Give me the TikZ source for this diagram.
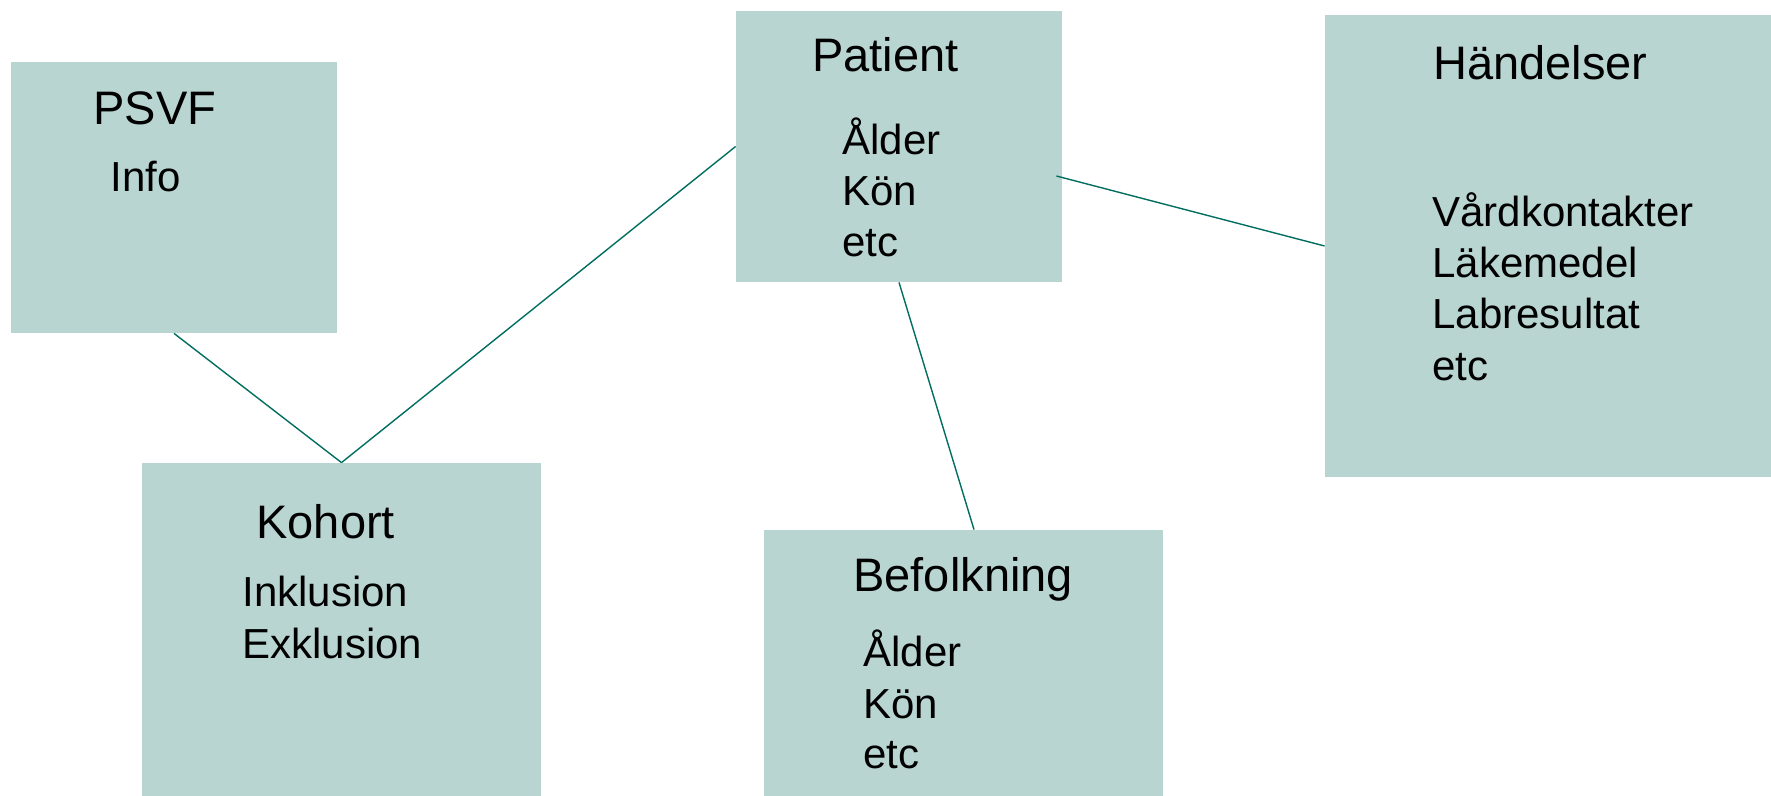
\documentclass[tikz,border=0pt]{standalone}
\usepackage{fontspec}
\setmainfont{Liberation Sans}
\usetikzlibrary{calc}
\definecolor{boxfill}{RGB}{185,213,210}
\definecolor{linkcol}{RGB}{0,110,96}
\tikzset{
  box/.style={rectangle, fill=boxfill, draw=none, inner sep=0pt},
  title/.style={anchor=base west, inner sep=0pt, font=\fontsize{23.5}{28}\selectfont},
  item/.style={anchor=base west, inner sep=0pt, font=\fontsize{21}{25}\selectfont},
  link/.style={draw=linkcol, line width=0.7pt}
}
\begin{document}
\begin{tikzpicture}[x=0.5pt, y=-0.5pt]
  \useasboundingbox[fill=white] (0,0) rectangle (1771,796);

  % boxes
  \node[box, minimum width=163pt, minimum height=135.5pt] (psvf) at (174,197.5) {};
  \node[box, minimum width=163pt, minimum height=135.5pt] (patient) at (899,146.5) {};
  \node[box, minimum width=223pt, minimum height=231pt] (hand) at (1548,246) {};
  \node[box, minimum width=199.5pt, minimum height=166.5pt] (kohort) at (341.5,629.5) {};
  \node[box, minimum width=199.5pt, minimum height=133pt] (bef) at (963.5,663) {};

  % PSVF
  \node[title] (psvfT) at (93,125) {PSVF};
  \node[item] (psvf1) at (110,192) {Info};

  % Patient
  \node[title] (patT) at (812,72) {Patient};
  \node[item] (pat1) at (842,155) {Ålder};
  \node[item] (pat2) at (842,206) {Kön};
  \node[item] (pat3) at (842,257) {etc};

  % Händelser
  \node[title] (handT) at (1433,80) {Händelser};
  \node[item] (hand1) at (1432,227) {Vårdkontakter};
  \node[item] (hand2) at (1432,278) {Läkemedel};
  \node[item] (hand3) at (1432,329) {Labresultat};
  \node[item] (hand4) at (1432,380) {etc};

  % Kohort
  \node[title] (kohT) at (256,538) {Kohort};
  \node[item] (koh1) at (242,606) {Inklusion};
  \node[item] (koh2) at (242,658) {Exklusion};

  % Befolkning
  \node[title] (befT) at (853,591) {Befolkning};
  \node[item] (bef1) at (863,666) {Ålder};
  \node[item] (bef2) at (863,718) {Kön};
  \node[item] (bef3) at (863,768) {etc};

  % connectors
  \draw[link] (psvf.south) -- (kohort.north);
  \draw[link] (patient.west) -- (kohort.north);
  \draw[link] ($(patient.east)+(-6,29.5)$) -- (hand.west);
  \draw[link] (patient.south) -- ($(bef.north)+(10.5,0)$);
\end{tikzpicture}
\end{document}
